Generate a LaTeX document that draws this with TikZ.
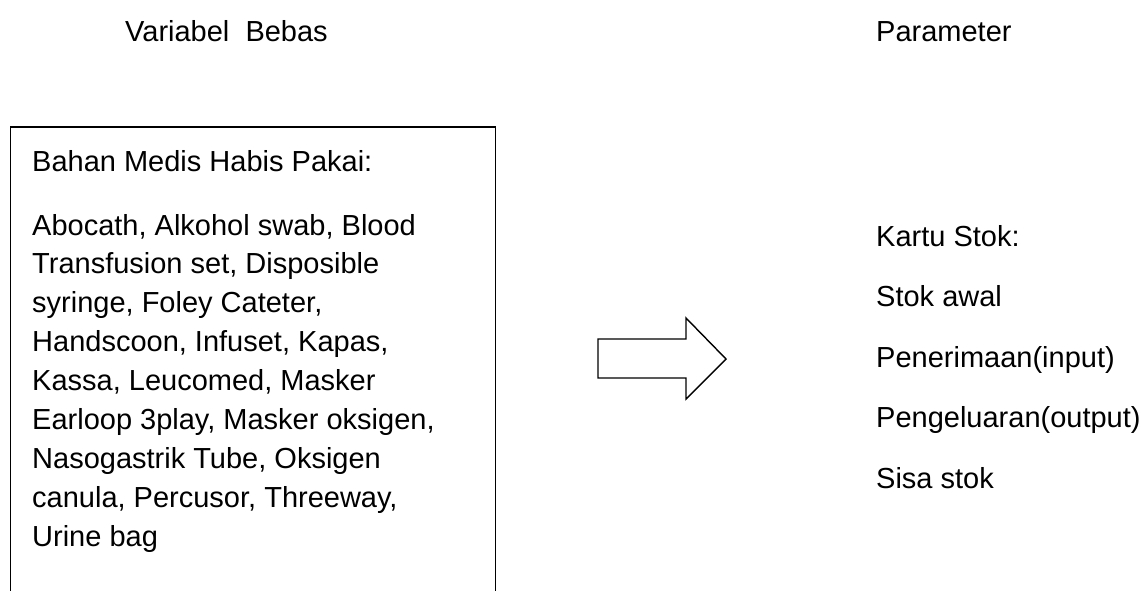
\documentclass[tikz,border=0pt]{standalone}
\usepackage{fontspec}
\setmainfont{Liberation Sans}
\begin{document}
\begin{tikzpicture}[x=1pt,y=-1pt,
  txt/.style={anchor=base west,inner sep=0pt,font=\fontsize{29}{35}\selectfont},
  boxline/.style={line width=1.6pt,line join=miter},
  blockarrow/.style={line width=1.4pt,line join=miter}]
\useasboundingbox (0,0) rectangle (1148,591);
% headings
\node[txt] (hvb) at (125,42) {Variabel\ \ Bebas};
\node[txt] (hpar) at (876,42) {Parameter};
% left box (open at the bottom, continues beyond the picture)
\draw[boxline] (10.5,600) -- (10.5,127) -- (495.5,127) -- (495.5,600);
\node[txt] (bmhp) at (32,171) {Bahan Medis Habis Pakai:};
\foreach \t [count=\i] in {
  {Abocath, Alkohol swab, Blood},
  {Transfusion set, Disposible},
  {syringe, Foley Cateter,},
  {Handscoon, Infuset, Kapas,},
  {Kassa, Leucomed, Masker},
  {Earloop 3play, Masker oksigen,},
  {Nasogastrik Tube, Oksigen},
  {canula, Percusor, Threeway,},
  {Urine bag}}
  \node[txt] (l\i) at (32,{235+(\i-1)*38.9}) {\t};
% block arrow
\draw[blockarrow] (598,339) -- (686,339) -- (686,318) -- (726,359) -- (686,399) -- (686,378) -- (598,378) -- cycle;
% right column
\foreach \t [count=\i] in {
  {Kartu Stok:},
  {Stok awal},
  {Penerimaan(input)},
  {Pengeluaran(output)},
  {Sisa stok}}
  \node[txt] (r\i) at (876,{246+(\i-1)*60.6}) {\t};
\end{tikzpicture}
\end{document}
